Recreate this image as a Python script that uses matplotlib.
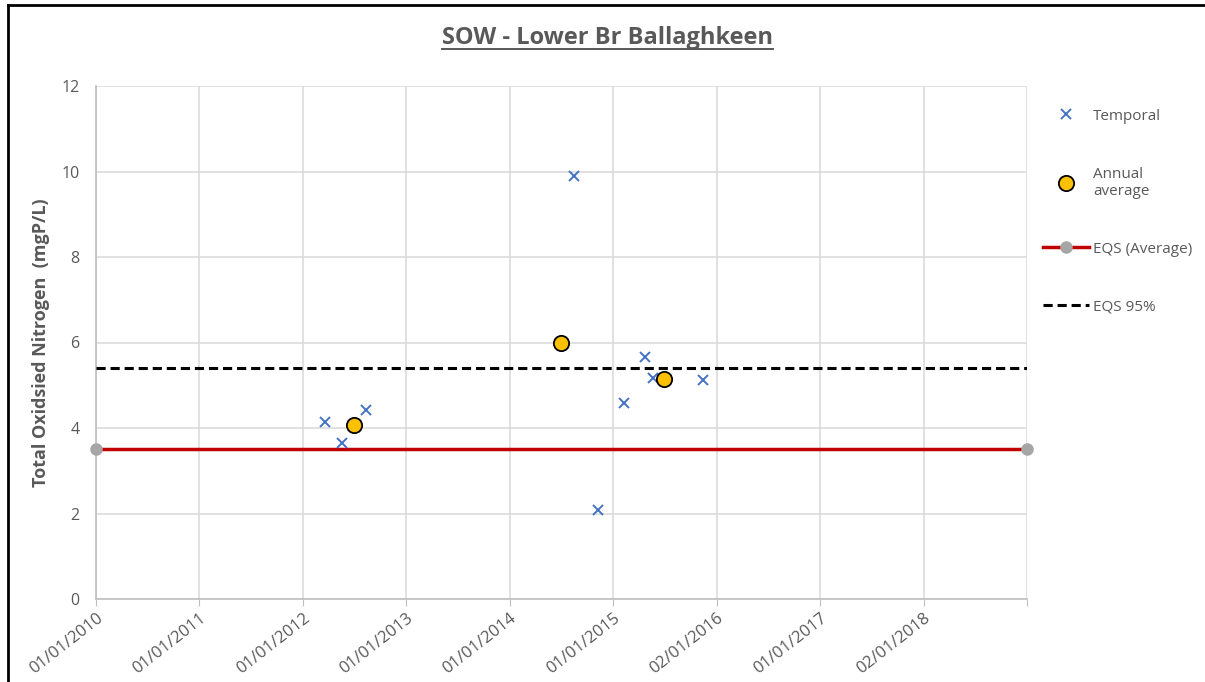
import numpy as np
import pandas as pd
import matplotlib
matplotlib.use("Agg")
import matplotlib.pyplot as plt
import matplotlib.dates as mdates
from matplotlib.lines import Line2D

# ============================================
# DATA
# ============================================
temporal_dates = ["2012-03-21", "2012-05-20", "2012-08-12", "2014-08-15",
                  "2014-11-07", "2015-02-07", "2015-04-25", "2015-05-23",
                  "2015-11-15"]
temporal_values = [4.15, 3.65, 4.43, 9.90, 2.08, 4.58, 5.66, 5.17, 5.12]

annual_dates = ["2012-07-01", "2014-07-01", "2015-07-01"]
annual_values = [4.07, 5.99, 5.15]

eqs_average = 3.5
eqs_95 = 5.4

axis_start = "2010-01-01"
tick_step_days = 365.25
tick_labels = ["01/01/2010", "01/01/2011", "01/01/2012", "01/01/2013",
               "01/01/2014", "01/01/2015", "02/01/2016", "01/01/2017",
               "02/01/2018", ""]

title = "SOW - Lower Br Ballaghkeen"
ylabel = "Total Oxidsied Nitrogen  (mgP/L)"

# ============================================
# PLOT
# ============================================
grey_text = "#595959"
plt.rcParams["font.family"] = ["Open Sans", "DejaVu Sans"]

fig = plt.figure(figsize=(12.05, 6.82), dpi=100)
ax = fig.add_axes([96 / 1205, 1 - 599 / 682, (1027 - 96) / 1205, (599 - 86) / 682])

x0 = mdates.date2num(pd.Timestamp(axis_start))
ticks = [x0 + i * tick_step_days for i in range(len(tick_labels))]
x_end = ticks[-1]

tx = mdates.date2num(pd.to_datetime(temporal_dates))
axx = mdates.date2num(pd.to_datetime(annual_dates))

ax.plot(tx, temporal_values, linestyle="none", marker="x", color="#4472C4",
        markersize=6.5, markeredgewidth=1.4, label="Temporal", zorder=4)
ax.plot(axx, annual_values, linestyle="none", marker="o", markerfacecolor="#FFC000",
        markeredgecolor="black", markersize=11, markeredgewidth=1.3,
        label="Annual\naverage", zorder=5)
ax.plot([x0, x_end], [eqs_average, eqs_average], color="#C00000", linewidth=2.5,
        marker="o", markersize=8, markerfacecolor="#A6A6A6",
        markeredgecolor="#A6A6A6", label="EQS (Average)", zorder=3, clip_on=False)
ax.plot([x0, x_end], [eqs_95, eqs_95], color="black", linewidth=2.2,
        linestyle=(0, (3, 1.6)), label="EQS 95%", zorder=3)

ax.set_xlim(x0, x_end)
ax.set_ylim(0, 12)
ax.set_yticks(np.arange(0, 13, 2))
ax.set_xticks(ticks)
ax.set_xticklabels(tick_labels, rotation=38, ha="right", rotation_mode="anchor")

ax.grid(True, color="#D9D9D9", linewidth=1.1)
ax.set_axisbelow(True)
for side in ["top", "right"]:
    ax.spines[side].set_visible(False)
for side in ["left", "bottom"]:
    ax.spines[side].set_color("#BFBFBF")
    ax.spines[side].set_linewidth(1.2)

ax.tick_params(axis="x", colors="#BFBFBF", labelcolor=grey_text, labelsize=12,
               length=5, direction="out", pad=3)
ax.tick_params(axis="y", length=0, labelcolor=grey_text, labelsize=11.5, pad=12)

ax.set_ylabel(ylabel, fontsize=13, fontweight="bold", color=grey_text, labelpad=8)

t = fig.text(608 / 1205, 1 - 38 / 682, title, ha="center", va="center",
             fontsize=17, fontweight="bold", color=grey_text)

leg = fig.legend(loc="upper left", bbox_to_anchor=(1029 / 1205, 1 - 95 / 682),
                 frameon=False, fontsize=11, labelspacing=2.8, handlelength=3.0,
                 handletextpad=0.3, labelcolor=grey_text)

# underline the title
fig.canvas.draw()
bb = t.get_window_extent().transformed(fig.transFigure.inverted())
fig.add_artist(Line2D([bb.x0, bb.x1], [bb.y0 + 0.002, bb.y0 + 0.002],
                      transform=fig.transFigure, color=grey_text, linewidth=1.4))

# chart frame (left and top edges visible in the screenshot)
fig.add_artist(Line2D([8 / 1205, 8 / 1205], [0, 1 - 5 / 682],
                      transform=fig.transFigure, color="black", linewidth=2))
fig.add_artist(Line2D([8 / 1205, 1], [1 - 5 / 682, 1 - 5 / 682],
                      transform=fig.transFigure, color="black", linewidth=2))

fig.savefig("out.png", dpi=100)
plt.close(fig)
